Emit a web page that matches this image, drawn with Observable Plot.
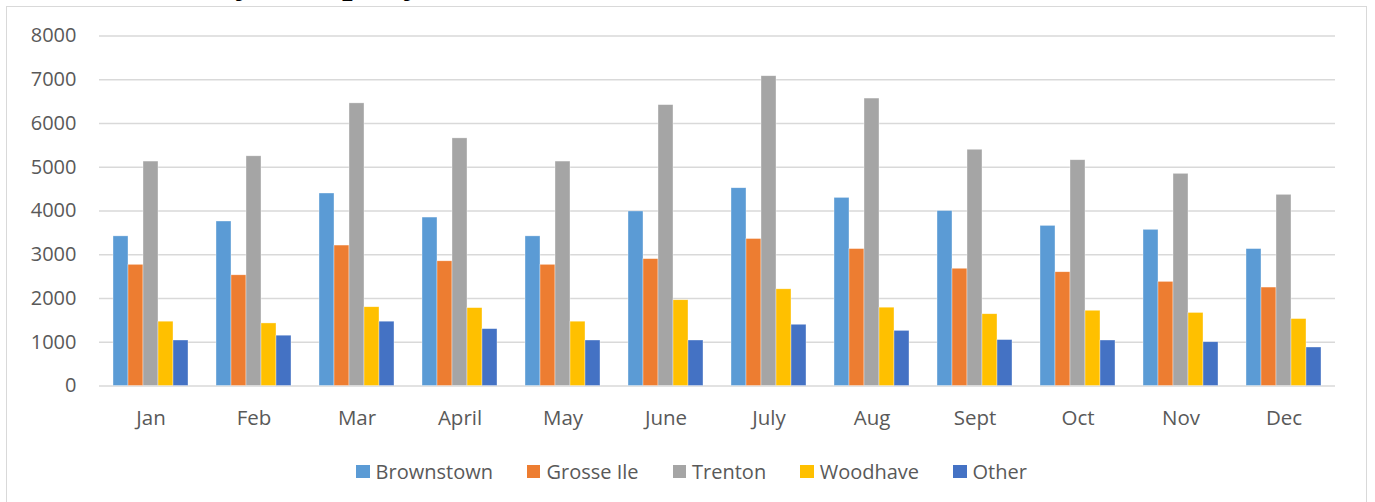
<!DOCTYPE html>
<html>
<head>
<meta charset="utf-8">
<script src="https://cdn.jsdelivr.net/npm/d3@7"></script>
<script src="https://cdn.jsdelivr.net/npm/@observablehq/plot@0.6"></script>
<style>
  html, body { margin: 0; padding: 0; background: #fff; overflow: hidden; }
  body { width: 1375px; height: 502px; position: relative; font-family: "Open Sans", sans-serif; }
  #title { position: absolute; left: 97px; top: -39px; font-family: "Liberation Serif", "Times New Roman", serif; font-weight: bold; font-size: 38px; line-height: 38px; color: #000; white-space: nowrap; }
  #frame { position: absolute; left: 6px; top: 6px; width: 1361px; height: 520px; border: 1.5px solid #d9d9d9; box-sizing: border-box; }
  #chart { position: absolute; left: 0; top: 0; }
  #legend { position: absolute; left: 4px; width: 1375px; top: 458px; display: flex; justify-content: center; align-items: center; font-size: 20px; color: #595959; }
  .item { display: flex; align-items: center; margin: 0 17px; }
  .sw { width: 13.5px; height: 13.5px; margin-right: 6px; }
</style>
</head>
<body>
<div id="title">Riders by Company</div>
<div id="frame"></div>
<div id="chart"></div>
<div id="legend"></div>
<script>
const months = ["Jan", "Feb", "Mar", "April", "May", "June", "July", "Aug", "Sept", "Oct", "Nov", "Dec"];
const seriesNames = ["Brownstown", "Grosse Ile", "Trenton", "Woodhave", "Other"];
const seriesColors = ["#5B9BD5", "#ED7D31", "#A5A5A5", "#FFC000", "#4472C4"];
const brownstown = [3420, 3760, 4400, 3850, 3420, 3990, 4520, 4300, 4000, 3660, 3570, 3130];
const grosseIle  = [2770, 2530, 3210, 2850, 2770, 2900, 3360, 3130, 2680, 2600, 2380, 2250];
const trenton    = [5130, 5250, 6460, 5660, 5130, 6420, 7080, 6570, 5400, 5160, 4850, 4370];
const woodhave   = [1470, 1430, 1800, 1780, 1470, 1960, 2210, 1790, 1640, 1720, 1670, 1530];
const other      = [1040, 1150, 1470, 1300, 1040, 1040, 1400, 1260, 1050, 1040, 1000, 880];
const yTicks = [0, 1000, 2000, 3000, 4000, 5000, 6000, 7000, 8000];

const seriesValues = [brownstown, grosseIle, trenton, woodhave, other];
const data = [];
months.forEach((m, i) => {
  seriesNames.forEach((s, j) => {
    data.push({month: m, series: s, value: seriesValues[j][i]});
  });
});

const chart = Plot.plot({
  width: 1375,
  height: 440,
  marginLeft: 95,
  marginRight: 36,
  marginTop: 35.5,
  marginBottom: 54.5,
  style: {fontFamily: "Open Sans", fontSize: "20px", color: "#595959", background: "transparent"},
  fx: {domain: months, padding: 0, label: null, axis: null},
  x: {domain: seriesNames, paddingInner: 0, paddingOuter: 0.91, axis: null},
  y: {domain: [0, 8000], axis: null},
  color: {domain: seriesNames, range: seriesColors},
  marks: [
    Plot.ruleY(yTicks, {stroke: "#d9d9d9", strokeWidth: 1.4}),
    Plot.barY(data, {fx: "month", x: "series", y: "value", fill: "series", stroke: "#fff", strokeWidth: 0.6, strokeOpacity: 0.6}),
    Plot.axisY({ticks: yTicks, tickSize: 0, tickPadding: 23, fontSize: 20, label: null, tickFormat: d => String(d)}),
    Plot.axisFx({anchor: "bottom", tickSize: 0, tickPadding: 24, fontSize: 20.5, label: null})
  ]
});
document.getElementById("chart").appendChild(chart);

const legend = document.getElementById("legend");
seriesNames.forEach((s, i) => {
  const item = document.createElement("div");
  item.className = "item";
  const sw = document.createElement("div");
  sw.className = "sw";
  sw.style.background = seriesColors[i];
  const t = document.createElement("span");
  t.textContent = s;
  item.appendChild(sw);
  item.appendChild(t);
  legend.appendChild(item);
});
</script>
</body>
</html>
